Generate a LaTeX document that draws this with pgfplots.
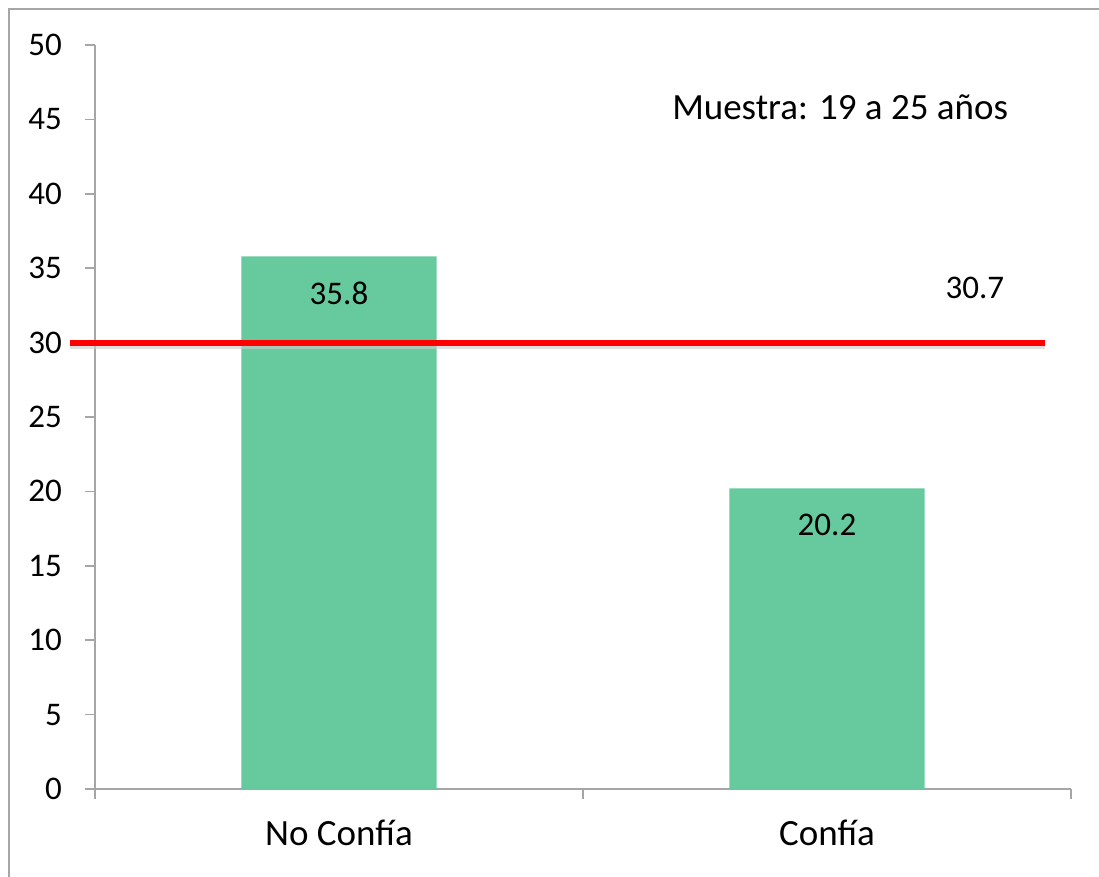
\documentclass[border=0pt]{standalone}
\usepackage{pgfplots}
\pgfplotsset{compat=1.18}
\usepackage{fontspec}
\setmainfont{Carlito}

\definecolor{barra}{HTML}{66CA9E}
\definecolor{eje}{HTML}{A6A6A6}

\begin{document}
\fontsize{16}{19}\selectfont
\begin{tikzpicture}
  % 1px = 0.5pt; plot area 976x744 px
  \useasboundingbox (-47.5pt,-44pt) rectangle (502pt,394.5pt);
  \draw[eje, line width=0.9pt] (-43pt,-44pt) -- (-43pt,390pt) -- (502pt,390pt);
  \begin{axis}[
      at={(0,0)}, anchor=south west,
      scale only axis, width=488pt, height=372pt,
      xmin=-0.5, xmax=1.5, ymin=0, ymax=50,
      axis x line*=bottom, axis y line*=left,
      axis line style={eje, line width=0.8pt},
      ytick={0,5,...,50},
      xtick={-0.5,0.5,1.5}, xticklabels={},
      extra x ticks={0,1},
      extra x tick labels={No Confía, Confía},
      extra x tick style={major tick length=0pt,
        xticklabel style={yshift=-10pt, font=\fontsize{18.5}{22}\selectfont}},
      tick align=outside, major tick length=5pt,
      tick style={eje, line width=0.8pt},
      yticklabel style={xshift=-6pt},
      /pgf/number format/assume math mode=true,
      ticklabel style={font=\fontsize{16.5}{19}\selectfont},
      clip=false,
    ]
    \addplot[ybar, bar width=97.6pt, fill=barra, draw=none,
      nodes near coords,
      nodes near coords style={anchor=center, yshift=-18.5pt, text=black,
        font=\fontsize{16.5}{19}\selectfont,
        /pgf/number format/.cd, fixed, fixed zerofill, precision=1},
      ] coordinates {(0,35.8) (1,20.2)};
    % promedio
    \addplot[gray!40, line width=3pt, opacity=0.6, yshift=-1.5pt] coordinates {(-0.551,30) (1.447,30)};
    \addplot[red, line width=3pt] coordinates {(-0.551,30) (1.447,30)};
    \node[font=\fontsize{18.5}{22}\selectfont] at (axis cs:1.027,45.8) {Muestra: 19 a 25 años};
    \node[font=\fontsize{16.5}{19}\selectfont] at (axis cs:1.303,33.7) {30.7};
  \end{axis}
\end{tikzpicture}
\end{document}
